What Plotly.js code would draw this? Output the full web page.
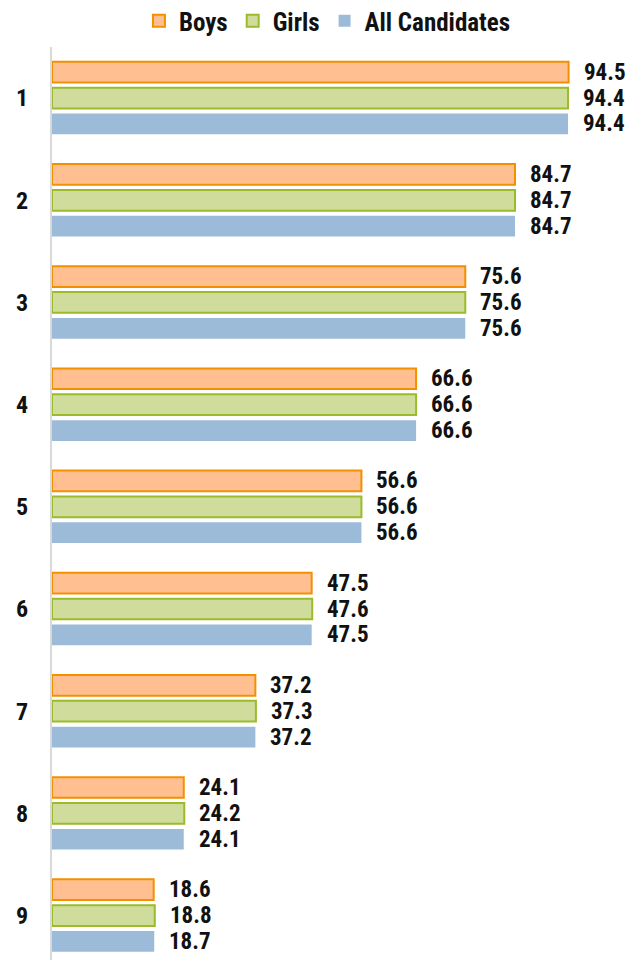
<!DOCTYPE html>
<html>
<head>
<meta charset="utf-8">
<script src="https://cdn.plot.ly/plotly-3.0.1.min.js"></script>
<style>html,body{margin:0;padding:0;background:#fff;}#chart{width:642px;height:960px;}</style>
</head>
<body>
<div id="chart"></div>
<script>
const categories = ['1','2','3','4','5','6','7','8','9'];
const seriesNames = ['Boys','Girls','All Candidates'];
const boys  = [94.5, 84.7, 75.6, 66.6, 56.6, 47.5, 37.2, 24.1, 18.6];
const girls = [94.4, 84.7, 75.6, 66.6, 56.6, 47.6, 37.3, 24.2, 18.8];
const allCandidates = [94.4, 84.7, 75.6, 66.6, 56.6, 47.5, 37.2, 24.1, 18.7];

const FONT = 'Roboto Condensed, Liberation Sans Narrow, Arial Narrow, sans-serif';
const fills = ['#FFBF90', '#CFDC9B', '#9CBBD9'];
const lines = ['#F39000', '#9BBB2A', '#9CBBD9'];
const lineW = [2, 2, 0];
const seriesVals = [boys, girls, allCandidates];

const bargap = 0.24, bargroupgap = 0.2;
const slot = (1 - bargap) / 3;

const traces = seriesVals.map((vals, i) => ({
  type: 'bar', orientation: 'h', name: seriesNames[i],
  y: categories, x: vals,
  marker: { color: fills[i], line: { color: lines[i], width: lineW[i] } },
  hoverinfo: 'x+name'
}));

const annotations = [];
seriesVals.forEach((vals, i) => {
  vals.forEach((v, j) => {
    annotations.push({
      x: v, y: j + (i - 1) * slot, xref: 'x', yref: 'y',
      text: v.toFixed(1), showarrow: false, xanchor: 'left', yanchor: 'middle',
      xshift: 14, borderpad: 0,
      font: { family: FONT, size: 23, color: '#111', weight: 'bold' }
    });
  });
});

const layout = {
  width: 642, height: 960,
  margin: { l: 52, r: 16, t: 47, b: 0 },
  paper_bgcolor: '#fff', plot_bgcolor: '#fff',
  barmode: 'group', bargap: bargap, bargroupgap: bargroupgap,
  showlegend: true,
  legend: {
    orientation: 'h', x: 0.51, xref: 'container', xanchor: 'center',
    y: 1 - 21/960, yref: 'container', yanchor: 'middle',
    font: { family: FONT, size: 25, color: '#111', weight: 'bold' },
    itemwidth: 30, traceorder: 'normal'
  },
  xaxis: { range: [0, 105], visible: false, showgrid: false, zeroline: false, fixedrange: true },
  yaxis: {
    type: 'category', range: [8.435, -0.5], showgrid: false, zeroline: false,
    showline: true, linecolor: '#D9D9D9', linewidth: 2, ticks: '',
    ticklabelstandoff: 17,
    tickfont: { family: FONT, size: 24, color: '#111', weight: 'bold' }
  },
  annotations: annotations
};

Plotly.newPlot('chart', traces, layout, { displayModeBar: false, staticPlot: true });
</script>
</body>
</html>
